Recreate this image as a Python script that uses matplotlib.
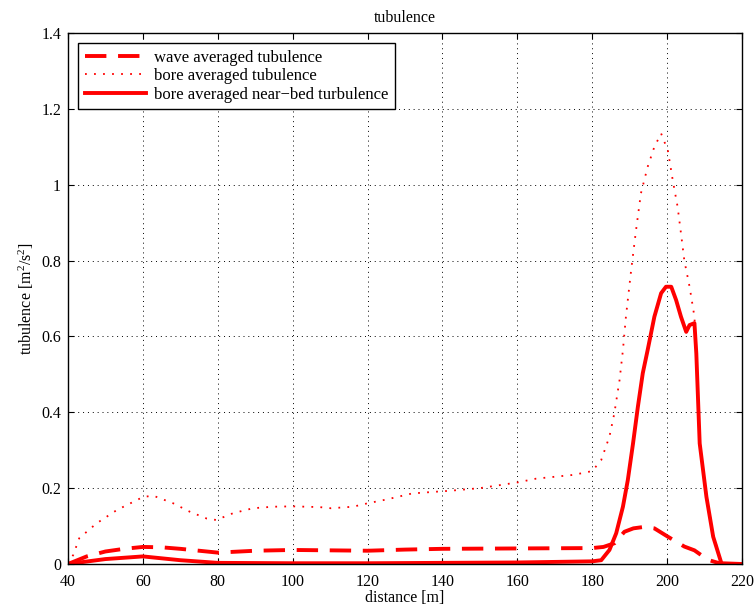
import numpy as np
import matplotlib.pyplot as plt

plt.rcParams['font.family'] = ['Liberation Serif', 'DejaVu Serif']
plt.rcParams['mathtext.fontset'] = 'custom'
plt.rcParams['mathtext.rm'] = 'Liberation Serif'
plt.rcParams['mathtext.it'] = 'Liberation Serif:italic'

# wave averaged turbulence (dashed)
x_wave = [40, 45, 50, 55, 60, 65, 70, 75, 80, 90, 100, 110, 120, 130, 140, 160, 180, 183,
          186, 188.6, 191, 194, 196.6, 200.2, 204.6, 207.3, 210.9, 213.6, 215, 220]
y_wave = [0, 0.02, 0.033, 0.04, 0.045, 0.044, 0.04, 0.035, 0.03, 0.035, 0.037, 0.036, 0.035,
          0.038, 0.04, 0.041, 0.042, 0.045, 0.055, 0.085, 0.094, 0.098, 0.094, 0.072, 0.046,
          0.036, 0.011, 0.003, 0, 0]

# bore averaged turbulence (dotted)
x_bore = [40, 41.4, 43, 47.6, 53, 60.1, 62.8, 68.1, 72.5, 77, 79.6, 84.1, 89.4, 94.7, 100,
          107.2, 110.2, 116.1, 120, 125, 131.9, 137.4, 141.9, 150, 160, 165, 170, 175, 180,
          182.4, 184.6, 185.9, 187.3, 188.2, 189, 190.4, 191.7, 193, 194.8, 196.6, 198.4,
          200.2, 201.5, 202.8, 203.7, 204.6, 206, 207.3, 208.7, 210.5, 212.3, 214.5, 220]
y_bore = [0, 0.024, 0.068, 0.107, 0.142, 0.177, 0.18, 0.16, 0.138, 0.12, 0.116, 0.134, 0.147,
          0.151, 0.152, 0.15, 0.147, 0.151, 0.16, 0.17, 0.186, 0.19, 0.193, 0.2, 0.215, 0.225,
          0.23, 0.235, 0.245, 0.274, 0.336, 0.397, 0.485, 0.564, 0.652, 0.775, 0.88, 0.977,
          1.047, 1.10, 1.135, 1.09, 1.012, 0.942, 0.872, 0.80, 0.731, 0.652, 0.33, 0.185,
          0.078, 0.004, 0]

# bore averaged near-bed turbulence (solid)
x_bed = [40, 50, 60, 70, 80, 100, 120, 140, 160, 180, 182.4, 184.6, 186.4, 188.2, 189.5,
         190.9, 192.2, 193.5, 194.8, 196.6, 198.4, 199.7, 201.1, 202.4, 203.7, 205.1, 206,
         207.3, 207.8, 208.7, 210.5, 212.3, 214.5, 220]
y_bed = [0, 0.013, 0.02, 0.01, 0.003, 0.002, 0.002, 0.003, 0.004, 0.007, 0.01, 0.037, 0.081,
         0.151, 0.221, 0.318, 0.415, 0.503, 0.564, 0.652, 0.714, 0.731, 0.731, 0.696, 0.652,
         0.612, 0.63, 0.635, 0.555, 0.318, 0.177, 0.072, 0.002, 0]

fig = plt.figure(figsize=(7.55, 6.15), dpi=100)
ax = fig.add_axes([68 / 755, 51 / 615, 674 / 755, 531 / 615])

ax.plot(x_wave, y_wave, color='r', lw=2.8, linestyle=(0, (5.5, 3)), label='wave averaged tubulence')
ax.plot(x_bore, y_bore, color='r', lw=1.3, linestyle=(0, (1, 4)), label='bore averaged tubulence')
ax.plot(x_bed, y_bed, color='r', lw=2.8, label='bore averaged near\u2212bed turbulence')

ax.set_xlim(40, 220)
ax.set_ylim(0, 1.4)
ax.set_xticks(np.arange(40, 221, 20))
ax.set_yticks(np.arange(0, 1.41, 0.2))
ax.set_yticklabels(['0', '0.2', '0.4', '0.6', '0.8', '1', '1.2', '1.4'])
ax.grid(True, color='k', linestyle=(0, (1, 4)), lw=0.7)
ax.tick_params(direction='in', top=True, right=True, labelsize=11.5, length=4)
ax.tick_params(axis='x', pad=7)
ax.tick_params(axis='y', pad=5)
for s in ax.spines.values():
    s.set_linewidth(1.0)

ax.set_xlabel('distance [m]', fontsize=11.5, labelpad=0)
ax.set_ylabel('tubulence [m$^2$/s$^2$]', fontsize=11.5, labelpad=4)
ax.set_title('tubulence', fontsize=11.5, pad=8)

leg = ax.legend(loc='upper left', fontsize=12, fancybox=False, framealpha=1,
                edgecolor='k', handlelength=3.7, borderaxespad=0.6, borderpad=0.4,
                labelspacing=0.15, handletextpad=0.45)
leg.get_frame().set_linewidth(1.0)

fig.savefig('out.png', dpi=100)
